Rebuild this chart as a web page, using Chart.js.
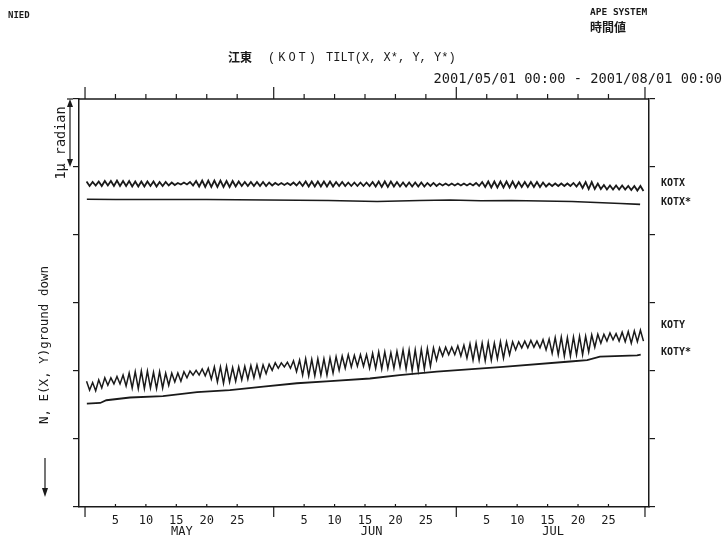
<!DOCTYPE html>
<html>
<head>
<meta charset="utf-8">
<script src="https://cdn.jsdelivr.net/npm/chart.js@4.4.1/dist/chart.umd.min.js"></script>
<style>
  html, body { margin: 0; padding: 0; background: #fff; }
  #wrap { position: relative; width: 725px; height: 543px; }
</style>
</head>
<body>
<div id="wrap"><canvas id="tiltChart"></canvas></div>
<script>
// time axis = days since 2001/05/01 00:00
const monthStarts = [0, 31, 61, 92];
const dayTicks = [5, 10, 15, 20, 25, 36, 41, 46, 51, 56, 66, 71, 76, 81, 86];
const dayLabels = ['5', '10', '15', '20', '25', '5', '10', '15', '20', '25', '5', '10', '15', '20', '25'];
const monthMids = [15.9, 47.1, 76.9];
const monthNames = ['MAY', 'JUN', 'JUL'];

// raw tilt (micro radian), daily high / low of the tidal swing
const kotxHigh = [4.787, 4.779, 4.787, 4.794, 4.794, 4.801, 4.794, 4.794, 4.787, 4.787,
                  4.787, 4.787, 4.779, 4.779, 4.772, 4.765, 4.772, 4.779, 4.794, 4.801,
                  4.801, 4.801, 4.801, 4.794, 4.794, 4.787, 4.779, 4.779, 4.779, 4.779,
                  4.772, 4.765, 4.765, 4.765, 4.772, 4.779, 4.787, 4.787, 4.787, 4.787,
                  4.787, 4.779, 4.779, 4.772, 4.772, 4.772, 4.772, 4.779, 4.787, 4.787,
                  4.787, 4.779, 4.772, 4.772, 4.772, 4.772, 4.765, 4.765, 4.757, 4.757,
                  4.757, 4.757, 4.757, 4.757, 4.765, 4.779, 4.787, 4.787, 4.787, 4.787,
                  4.787, 4.779, 4.779, 4.779, 4.779, 4.772, 4.757, 4.757, 4.757, 4.757,
                  4.765, 4.772, 4.779, 4.779, 4.757, 4.735, 4.728, 4.728, 4.728, 4.721,
                  4.721, 4.721];
const kotxLow = [4.721, 4.728, 4.721, 4.728, 4.721, 4.721, 4.721, 4.713, 4.713, 4.713,
                 4.721, 4.713, 4.721, 4.728, 4.735, 4.743, 4.743, 4.728, 4.713, 4.706,
                 4.706, 4.706, 4.706, 4.706, 4.713, 4.721, 4.721, 4.721, 4.721, 4.721,
                 4.728, 4.735, 4.735, 4.735, 4.728, 4.721, 4.713, 4.713, 4.713, 4.713,
                 4.713, 4.721, 4.721, 4.721, 4.721, 4.721, 4.721, 4.713, 4.706, 4.706,
                 4.713, 4.713, 4.713, 4.713, 4.713, 4.713, 4.721, 4.721, 4.728, 4.728,
                 4.728, 4.728, 4.728, 4.728, 4.721, 4.706, 4.699, 4.699, 4.699, 4.699,
                 4.699, 4.706, 4.706, 4.706, 4.706, 4.713, 4.721, 4.721, 4.721, 4.721,
                 4.713, 4.691, 4.676, 4.676, 4.676, 4.669, 4.669, 4.669, 4.669, 4.662,
                 4.654, 4.647];
const kotyHigh = [1.85, 1.83, 1.87, 1.90, 1.90, 1.92, 1.94, 1.97, 1.99, 2.00,
                  2.00, 1.98, 1.99, 1.97, 1.97, 1.97, 1.99, 2.00, 2.01, 2.03,
                  2.04, 2.06, 2.06, 2.07, 2.05, 2.06, 2.07, 2.08, 2.09, 2.09,
                  2.10, 2.12, 2.12, 2.13, 2.15, 2.16, 2.18, 2.17, 2.18, 2.18,
                  2.19, 2.21, 2.22, 2.24, 2.23, 2.24, 2.24, 2.26, 2.28, 2.28,
                  2.27, 2.29, 2.31, 2.31, 2.31, 2.32, 2.33, 2.34, 2.34, 2.35,
                  2.35, 2.37, 2.38, 2.40, 2.41, 2.41, 2.42, 2.41, 2.43, 2.43,
                  2.43, 2.43, 2.44, 2.45, 2.44, 2.46, 2.47, 2.49, 2.50, 2.49,
                  2.50, 2.51, 2.51, 2.53, 2.54, 2.54, 2.56, 2.55, 2.57, 2.58,
                  2.59, 2.60];
const kotyLow = [1.72, 1.71, 1.75, 1.79, 1.81, 1.81, 1.78, 1.75, 1.74, 1.74,
                 1.75, 1.74, 1.75, 1.79, 1.84, 1.85, 1.90, 1.94, 1.94, 1.93,
                 1.88, 1.84, 1.82, 1.84, 1.85, 1.87, 1.88, 1.90, 1.91, 1.96,
                 2.01, 2.04, 2.06, 2.04, 1.99, 1.94, 1.93, 1.93, 1.94, 1.94,
                 1.97, 2.01, 2.04, 2.06, 2.07, 2.07, 2.04, 2.04, 2.03, 2.04,
                 2.04, 2.06, 2.03, 2.01, 2.01, 2.03, 2.07, 2.16, 2.22, 2.24,
                 2.24, 2.22, 2.19, 2.16, 2.16, 2.15, 2.16, 2.18, 2.19, 2.24,
                 2.31, 2.34, 2.34, 2.35, 2.34, 2.31, 2.26, 2.24, 2.22, 2.22,
                 2.24, 2.24, 2.28, 2.35, 2.41, 2.44, 2.46, 2.44, 2.43, 2.41,
                 2.43, 2.44];

// tide-corrected traces (X*, Y*)
const kotxStarDays = [0.3, 5, 10, 20, 30, 40, 48, 55, 60, 65, 70, 75, 80, 84, 88, 91.2];
const kotxStar = [4.525, 4.522, 4.522, 4.521, 4.515, 4.507, 4.493, 4.507, 4.515, 4.504, 4.507, 4.500, 4.493, 4.478, 4.463, 4.451];
const kotyStarDays = [0.3, 2.5, 3.5, 7.4, 12.8, 18.4, 23.8, 29.3, 34.8, 40.3, 46.8, 51.7, 57.8, 68.7, 79.7, 82.5, 84.6, 90.7, 91.3];
const kotyStar = [1.52, 1.53, 1.57, 1.61, 1.63, 1.69, 1.72, 1.77, 1.82, 1.85, 1.89, 1.94, 1.99, 2.06, 2.14, 2.16, 2.21, 2.23, 2.24];

const seriesNames = ['KOTX', 'KOTX*', 'KOTY', 'KOTY*'];

const ink = '#1a1a1a';
const mono = '"DejaVu Sans Mono", monospace';

function dailySwing(high, low) {
    const pts = [];
    high.forEach((h, i) => {
        pts.push({x: i + 0.25, y: h});
        pts.push({x: i + 0.75, y: low[i]});
    });
    return pts;
}
function pairs(days, vals) {
    return days.map((d, i) => ({x: d, y: vals[i]}));
}

//decor block: ticks, scale bar and the printed texts
const decor = {
    id: 'decor',
    afterDraw(chart) {
        const {ctx, chartArea: a} = chart;
        const x = chart.scales.x, y = chart.scales.y;
        const seg = (x1, y1, x2, y2) => { ctx.beginPath(); ctx.moveTo(x1, y1); ctx.lineTo(x2, y2); ctx.stroke(); };
        const head = (hx, tip, base) => {
            ctx.beginPath(); ctx.moveTo(hx, tip); ctx.lineTo(hx - 3, base); ctx.lineTo(hx + 3, base); ctx.closePath(); ctx.fill();
        };
        ctx.save();
        ctx.strokeStyle = ink;
        ctx.fillStyle = ink;
        ctx.lineWidth = 1.5;
        seg(a.left, a.top, a.right, a.top);

        ctx.lineWidth = 1.2;
        dayTicks.forEach(d => {
            const px = x.getPixelForValue(d);
            seg(px, a.top, px, a.top - 5);
            seg(px, a.bottom, px, a.bottom - 3);
        });
        monthStarts.forEach(d => {
            const px = x.getPixelForValue(d);
            seg(px, a.top, px, a.top - 12);
            seg(px, a.bottom, px, a.bottom + 10);
        });

        // names of the traces, right of the frame
        ctx.font = 'bold 10px ' + mono;
        ctx.textBaseline = 'middle';
        ctx.textAlign = 'left';
        const namesAt = [4.765, 4.485, 2.676, 2.279];
        seriesNames.forEach((n, i) => ctx.fillText(n, a.right + 12, y.getPixelForValue(namesAt[i])));

        // 1 micro radian bar
        const bx = 70, b0 = y.getPixelForValue(6), b1 = y.getPixelForValue(5);
        seg(bx, b0 + 4, bx, b1 - 4);
        head(bx, b0, b0 + 8);
        head(bx, b1, b1 - 8);
        seg(bx - 3, b0, bx + 3, b0);
        ctx.save();
        ctx.translate(61, 143);
        ctx.rotate(-Math.PI / 2);
        ctx.textAlign = 'center';
        ctx.font = '13.5px ' + mono;
        ctx.fillText('1\u03bc radian', 0, 0);
        ctx.restore();

        // axis meaning
        ctx.save();
        ctx.translate(45, 345);
        ctx.rotate(-Math.PI / 2);
        ctx.textAlign = 'center';
        ctx.font = '12.5px ' + mono;
        ctx.fillText('N, E(X, Y)ground down', 0, 0);
        ctx.restore();
        seg(45, 458, 45, 490);
        head(45, 497, 488);

        // header
        ctx.textBaseline = 'alphabetic';
        ctx.font = 'bold 9px ' + mono;
        ctx.fillText('NIED', 8, 18);
        ctx.font = 'bold 9.5px ' + mono;
        ctx.fillText('APE SYSTEM', 590, 15);
        ctx.font = 'bold 12px "Noto Sans CJK JP"';
        ctx.fillText('時間値', 590, 32);
        ctx.font = 'bold 12px "Noto Sans CJK JP"';
        ctx.fillText('江東', 228, 62);
        ctx.font = '12px "Liberation Mono", monospace';
        ctx.letterSpacing = '3px';
        ctx.fillText('(KOT)', 268, 61);
        ctx.letterSpacing = '0px';
        ctx.fillText('TILT(X, X*, Y, Y*)', 326, 61);
        ctx.textAlign = 'right';
        ctx.font = '13.7px ' + mono;
        ctx.fillText('2001/05/01 00:00 - 2001/08/01 00:00', 722, 83);
        ctx.restore();
    }
};

const yTemplate = {
    min: 0,
    max: 6,
    grid: { display: true, drawOnChartArea: false, drawTicks: true, tickLength: 6, color: ink, lineWidth: 1.2 },
    border: { display: true, color: ink, width: 1.5 },
    ticks: { display: false, stepSize: 1 }
};

const ctx = document.getElementById('tiltChart').getContext('2d');
const tiltChart = new Chart(ctx, {
    type: 'line',
    data: {
        datasets: [
            { label: seriesNames[0], data: dailySwing(kotxHigh, kotxLow), borderColor: ink, borderWidth: 1.8 },
            { label: seriesNames[1], data: pairs(kotxStarDays, kotxStar), borderColor: ink, borderWidth: 1.6 },
            { label: seriesNames[2], data: dailySwing(kotyHigh, kotyLow), borderColor: ink, borderWidth: 1.5 },
            { label: seriesNames[3], data: pairs(kotyStarDays, kotyStar), borderColor: ink, borderWidth: 1.8 }
        ]
    },
    options: {
        responsive: true,
        maintainAspectRatio: false,
        animation: false,
        layout: { padding: { top: 99, left: 0, right: 0, bottom: 0 } },
        elements: { point: { radius: 0 }, line: { tension: 0, fill: false } },
        plugins: { legend: { display: false }, tooltip: { enabled: false } },
        scales: {
            x: {
                type: 'linear',
                position: 'bottom',
                min: -0.99,
                max: 92.66,
                grid: { display: false, drawTicks: false },
                border: { display: true, color: ink, width: 1.5 },
                afterBuildTicks: s => { s.ticks = dayTicks.concat(monthMids).map(v => ({ value: v })); },
                afterFit: s => { s.height = 36; },
                ticks: {
                    autoSkip: false,
                    maxRotation: 0,
                    minRotation: 0,
                    padding: 8,
                    color: ink,
                    font: { family: mono, size: 12, lineHeight: 0.95 },
                    callback: (v, i) => i < dayTicks.length ? dayLabels[i] : ['', monthNames[i - dayTicks.length]]
                }
            },
            y: Object.assign({}, yTemplate, { position: 'left', afterFit: s => { s.width = 79; } }),
            y2: Object.assign({}, yTemplate, { position: 'right', afterFit: s => { s.width = 76; } })
        }
    },
    plugins: [decor]
});
</script>
</body>
</html>
